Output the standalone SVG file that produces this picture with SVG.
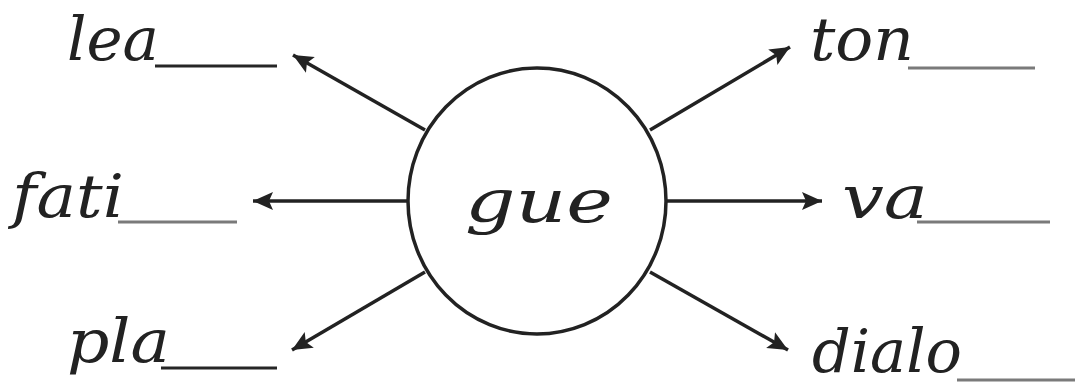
<svg xmlns="http://www.w3.org/2000/svg" width="1075" height="385" viewBox="0 0 1075 385">
<style>
.lbl{font-family:"DejaVu Serif","Liberation Serif",serif;font-style:italic;font-size:60px;fill:#222}
.ln{stroke:#222;stroke-width:3.5;fill:none}
.ul{stroke-width:3}
.dk{stroke:#262626}
.gr{stroke:#7a7a7a}
</style>
<defs>
<marker id="ah" markerUnits="userSpaceOnUse" markerWidth="22" markerHeight="22" refX="20" refY="11" orient="auto">
<path d="M0,2 L20,11 L0,20 L4,11 Z" fill="#222"/>
</marker>
</defs>
<g id="connectors">
<line class="ln" x1="425" y1="130" x2="293" y2="55" marker-end="url(#ah)"/>
<line class="ln" x1="408" y1="201" x2="253" y2="201" marker-end="url(#ah)"/>
<line class="ln" x1="425" y1="272" x2="292" y2="350" marker-end="url(#ah)"/>
<line class="ln" x1="650" y1="130" x2="790" y2="47" marker-end="url(#ah)"/>
<line class="ln" x1="665" y1="201" x2="822" y2="201" marker-end="url(#ah)"/>
<line class="ln" x1="650" y1="272" x2="788" y2="350" marker-end="url(#ah)"/>
</g>
<g id="center">
<ellipse cx="537" cy="201" rx="129" ry="133" fill="#fff" stroke="#222" stroke-width="3.5"/>
<text class="lbl" x="465" y="222" textLength="148" lengthAdjust="spacingAndGlyphs">gue</text>
</g>
<g id="n-lea">
<text class="lbl" x="67" y="60" textLength="92" lengthAdjust="spacingAndGlyphs">lea</text>
<line class="ul dk" x1="155" y1="66" x2="277" y2="66"/>
</g>
<g id="n-fati">
<text class="lbl" x="12" y="217" textLength="112" lengthAdjust="spacingAndGlyphs">fati</text>
<line class="ul gr" x1="118" y1="222" x2="237" y2="222"/>
</g>
<g id="n-pla">
<text class="lbl" x="67" y="362" textLength="103" lengthAdjust="spacingAndGlyphs">pla</text>
<line class="ul dk" x1="161" y1="368" x2="277" y2="368"/>
</g>
<g id="n-ton">
<text class="lbl" x="810" y="60" textLength="104" lengthAdjust="spacingAndGlyphs">ton</text>
<line class="ul gr" x1="908" y1="68" x2="1035" y2="68"/>
</g>
<g id="n-va">
<text class="lbl" x="842" y="218" textLength="86" lengthAdjust="spacingAndGlyphs">va</text>
<line class="ul gr" x1="917" y1="222" x2="1050" y2="222"/>
</g>
<g id="n-dialo">
<text class="lbl" x="812" y="372" font-size="54" textLength="150" lengthAdjust="spacingAndGlyphs">dialo</text>
<line class="ul gr" x1="957" y1="380" x2="1075" y2="380"/>
</g>
</svg>
